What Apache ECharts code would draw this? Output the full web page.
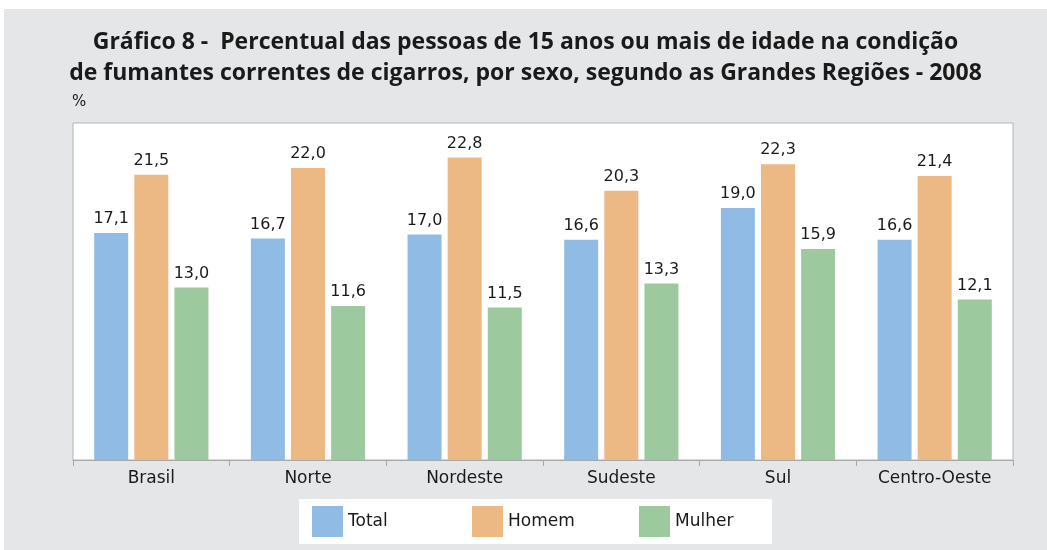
<!DOCTYPE html>
<html>
<head>
<meta charset="utf-8">
<script src="https://cdn.jsdelivr.net/npm/echarts@6/dist/echarts.min.js"></script>
<style>
  html, body { margin: 0; padding: 0; background: #fff; }
  #chart { position: absolute; left: 4px; top: 9px; width: 1043px; height: 541px; }
</style>
</head>
<body>
<div id="chart"></div>
<script>
const regioes = ['Brasil', 'Norte', 'Nordeste', 'Sudeste', 'Sul', 'Centro-Oeste']
const nomes = ['Total', 'Homem', 'Mulher']
const total = [17.1, 16.7, 17.0, 16.6, 19.0, 16.6]
const homem = [21.5, 22.0, 22.8, 20.3, 22.3, 21.4]
const mulher = [13.0, 11.6, 11.5, 13.3, 15.9, 12.1]

const FONTE = 'DejaVu Sans, sans-serif'
const fmt = (p) => p.value.toFixed(1).replace('.', ',')

const myChart = echarts.init(document.getElementById('chart'))

const serie = (name, data, color) => ({
  name,
  type: 'bar',
  data,
  barWidth: 34,
  barGap: '18%',
  itemStyle: { color },
  label: {
    show: true,
    position: 'top',
    distance: 6,
    color: '#1a1a1a',
    fontSize: 16,
    fontFamily: FONTE,
    formatter: fmt,
  },
})

// uma legenda por item, para acertar o espaçamento
const legenda = (name, left) => ({
  data: [name],
  left,
  top: 497,
  icon: 'rect',
  itemWidth: 31,
  itemHeight: 31,
  padding: 0,
  textStyle: { fontSize: 17, color: '#1a1a1a', fontFamily: FONTE },
})

myChart.setOption({
  backgroundColor: '#e5e6e8',
  animation: false,
  title: {
    text: 'Gráfico 8 -  Percentual das pessoas de 15 anos ou mais de idade na condição\nde fumantes correntes de cigarros, por sexo, segundo as Grandes Regiões - 2008',
    left: 'center',
    top: 13,
    textStyle: {
      fontSize: 23,
      fontWeight: 'bold',
      color: '#1a1a1a',
      lineHeight: 31,
      fontFamily: 'Open Sans, sans-serif',
    },
  },
  // grid branco com borda, como no original
  grid: {
    show: true,
    left: 69,
    right: 34,
    top: 114,
    bottom: 90,
    backgroundColor: '#fff',
    borderColor: '#b5b5b5',
    borderWidth: 1,
  },
  legend: [
    legenda(nomes[0], 308),
    legenda(nomes[1], 468),
    legenda(nomes[2], 635),
  ],
  xAxis: {
    type: 'category',
    data: regioes,
    axisLine: { lineStyle: { color: '#a8a8a8' } },
    axisTick: { show: true, length: 6, lineStyle: { color: '#a8a8a8' } },
    axisLabel: {
      fontSize: 17,
      color: '#1a1a1a',
      margin: 10,
      fontFamily: FONTE,
    },
  },
  yAxis: {
    type: 'value',
    min: 0,
    max: 25.4,
    show: false,
    splitLine: { show: false },
  },
  graphic: [
    {
      type: 'text',
      left: 68,
      top: 86,
      style: {
        text: '%',
        fontSize: 15,
        fill: '#1a1a1a',
        fontFamily: FONTE,
      },
    },
    {
      // caixa branca da legenda
      type: 'rect',
      left: 295,
      top: 490,
      z: -1,
      shape: { width: 473, height: 45 },
      style: { fill: '#fff' },
    },
  ],
  series: [
    serie(nomes[0], total, '#8fbbe5'),
    serie(nomes[1], homem, '#ecb985'),
    serie(nomes[2], mulher, '#9cc99d'),
  ],
})
</script>
</body>
</html>
